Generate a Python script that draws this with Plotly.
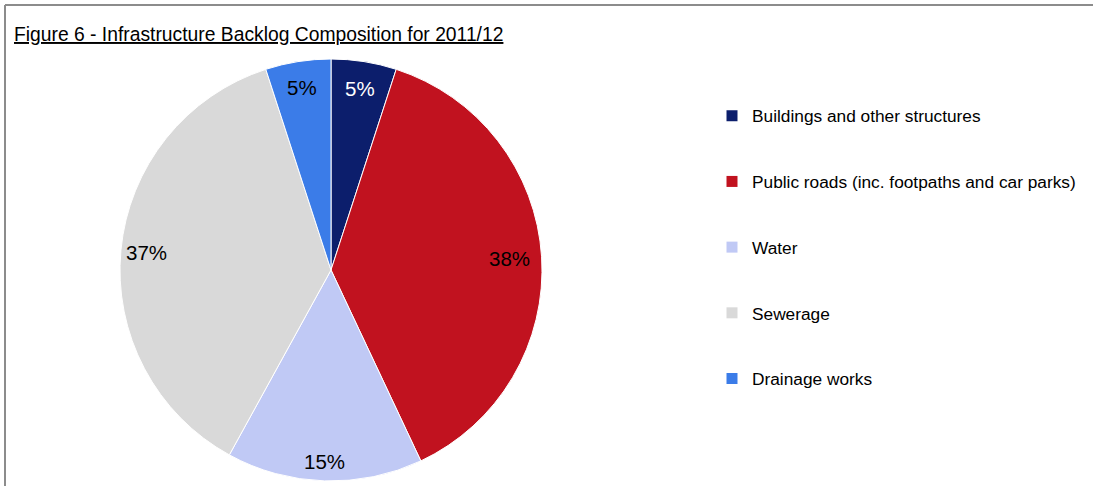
import math
import plotly.graph_objects as go

# Backlog composition data
categories = [
    "Buildings and other structures",
    "Public roads (inc. footpaths and car parks)",
    "Water",
    "Sewerage",
    "Drainage works",
]
shares = [5, 38, 15, 37, 5]
colors = ["#0c1e6c", "#c1121f", "#c0c9f5", "#d9d9d9", "#3b7ce8"]
label_colors = ["#ffffff", "#000000", "#000000", "#000000", "#000000"]
# radial position of each percentage label, as a fraction of the pie radius
label_radius = [0.87, 0.85, 0.91, 0.88, 0.875]

W, H = 1093, 486
FONT = "Liberation Sans, Arial, sans-serif"

# Pie placement (pixels) -> paper domain
cx, cy, r = 331, 270, 211
dom_x = [(cx - r) / W, (cx + r) / W]
dom_y = [1 - (cy + r) / H, 1 - (cy - r) / H]

fig = go.Figure()
fig.add_trace(go.Pie(
    labels=categories,
    values=shares,
    sort=False,
    direction="clockwise",
    rotation=0,
    marker=dict(colors=colors, line=dict(color="white", width=1)),
    textinfo="none",
    hoverinfo="label+percent",
    showlegend=False,
    domain=dict(x=dom_x, y=dom_y),
))

# Legend entries, one group per category so the gap between them can be set
for name, col in zip(categories, colors):
    fig.add_trace(go.Scatter(
        x=[None], y=[None], mode="markers", name=name, legendgroup=name,
        marker=dict(symbol="square", size=11, color=col),
    ))

# Percentage labels placed inside each slice at its mid-angle
annotations = []
total = sum(shares)
cum = 0
for v, tc, k in zip(shares, label_colors, label_radius):
    mid = (cum + v / 2) / total * 2 * math.pi
    cum += v
    px = cx + k * r * math.sin(mid)
    py = cy - k * r * math.cos(mid)
    annotations.append(dict(
        x=px / W, y=1 - py / H, xref="paper", yref="paper",
        text=f"{v}%", showarrow=False, xanchor="center", yanchor="middle",
        font=dict(family=FONT, size=20.5, color=tc),
    ))

# Title (underlined)
annotations.append(dict(
    x=12 / W, y=1 - 35 / H, xref="paper", yref="paper",
    text="Figure 6 - Infrastructure Backlog Composition for 2011/12",
    showarrow=False, xanchor="left", yanchor="middle",
    font=dict(family=FONT, size=19.3, color="#000000", lineposition="under"),
))

fig.update_layout(
    width=W, height=H,
    margin=dict(l=0, r=0, t=0, b=0),
    paper_bgcolor="white", plot_bgcolor="white",
    xaxis=dict(visible=False), yaxis=dict(visible=False),
    annotations=annotations,
    legend=dict(
        x=712 / W, y=1 - 98 / H, xanchor="left", yanchor="top",
        font=dict(family=FONT, size=17.3, color="#000000"),
        tracegroupgap=40.2, bgcolor="rgba(0,0,0,0)",
    ),
    shapes=[
        dict(type="line", xref="paper", yref="paper",
             x0=5 / W, x1=1, y0=1 - 5 / H, y1=1 - 5 / H,
             line=dict(color="#8c8c8c", width=2)),
        dict(type="line", xref="paper", yref="paper",
             x0=5 / W, x1=5 / W, y0=0, y1=1 - 5 / H,
             line=dict(color="#8c8c8c", width=2)),
    ],
)

fig.write_html("out.html")
